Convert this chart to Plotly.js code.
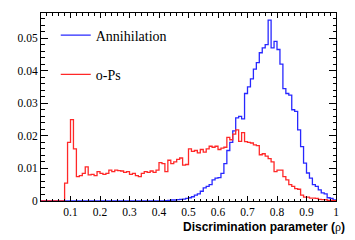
<!DOCTYPE html>
<html>
<head>
<meta charset="utf-8">
<script src="https://cdn.plot.ly/plotly-3.0.1.min.js"></script>
<style>html,body{margin:0;padding:0;background:#fff;}#plot{width:355px;height:240px;}</style>
</head>
<body>
<div id="plot"></div>
<script>
// Histogram: 100 bins from 0 to 1
const binLow = 0.0;
const binWidth = 0.01;

const annihilation = [
  0,0,0,0,0,0,0,0,0,0,
  0,0,0,0,0,0,0,0,0,0,
  0,0,0,0,0,0,0,0,0,0,
  0,0,0,0,0,0,0,0,0,0,
  0,0,0.0001,0.0002,0.0003,0.0003,0.0004,0.0005,0.0006,0.0008,
  0.001,0.0013,0.0018,0.0022,0.003,0.004,0.0045,0.005,0.0065,0.007,
  0.0072,0.0085,0.0115,0.0155,0.018,0.0215,0.0255,0.026,0.0252,0.033,
  0.035,0.0375,0.0405,0.0425,0.0455,0.047,0.048,0.0555,0.047,0.049,
  0.0465,0.042,0.0345,0.033,0.0325,0.028,0.0275,0.0218,0.0167,0.0116,
  0.0086,0.007,0.005,0.0045,0.0034,0.0025,0.0022,0.001,0.0008,0.0003
];

const ops = [
  0,0,0,0,0,0,0,0,0.0055,0.018,
  0.025,0.016,0.0075,0.0078,0.0085,0.0105,0.008,0.0082,0.0078,0.009,
  0.0085,0.0082,0.0085,0.0095,0.009,0.0095,0.0093,0.0092,0.0088,0.009,
  0.0082,0.0085,0.0078,0.0075,0.0085,0.009,0.0088,0.0092,0.0088,0.0095,
  0.0118,0.0115,0.009,0.0125,0.0115,0.012,0.0128,0.0132,0.011,0.0112,
  0.016,0.0152,0.0155,0.0148,0.0158,0.015,0.016,0.0168,0.0165,0.0168,
  0.0158,0.0162,0.0165,0.0195,0.0188,0.0205,0.0218,0.0183,0.021,0.0182,
  0.018,0.0178,0.0172,0.017,0.0142,0.0145,0.0138,0.013,0.012,0.009,
  0.0095,0.0095,0.0075,0.0065,0.005,0.0045,0.0038,0.0036,0.0018,0.0012,
  0.0012,0.0009,0.0009,0.0008,0.0005,0.0004,0.0004,0.0002,0.0002,0.0001
];

const xTickVals = [0.1,0.2,0.3,0.4,0.5,0.6,0.7,0.8,0.9,1];
const xTickText = ['0.1','0.2','0.3','0.4','0.5','0.6','0.7','0.8','0.9','1'];
const yTickVals = [0,0.01,0.02,0.03,0.04,0.05];
const yTickText = ['0','0.01','0.02','0.03','0.04','0.05'];

function stepXY(vals){
  const x = [], y = [];
  for (let i = 0; i < vals.length; i++){ x.push(binLow + i*binWidth); y.push(vals[i]); }
  x.push(binLow + vals.length*binWidth); y.push(vals[vals.length-1]);
  return {x, y};
}

const a = stepXY(annihilation);
const o = stepXY(ops);

const traces = [
  {x: a.x, y: a.y, type:'scatter', mode:'lines', name:'Annihilation', legendgroup:'a',
   line:{shape:'hv', color:'rgb(40,40,255)', width:1.3}},
  {x: o.x, y: o.y, type:'scatter', mode:'lines', name:'o-Ps', legendgroup:'b',
   line:{shape:'hv', color:'rgb(255,40,40)', width:1.3}}
];

const tickFont = {family:'Liberation Serif', size:11.5, color:'#000'};

const layout = {
  width:355, height:240,
  margin:{l:41, r:19, t:13, b:39, pad:0},
  paper_bgcolor:'#fff', plot_bgcolor:'#fff',
  showlegend:true,
  legend:{x:0.05, y:0.965, xanchor:'left', yanchor:'top', bgcolor:'rgba(0,0,0,0)',
          font:{family:'Liberation Serif', size:14, color:'#000'},
          tracegroupgap:18, traceorder:'grouped', itemwidth:30},
  xaxis:{range:[0,1], tickmode:'array', tickvals:xTickVals, ticktext:xTickText,
         ticks:'inside', ticklen:5, tickcolor:'#000', tickwidth:1,
         showline:true, linecolor:'#000', linewidth:1, mirror:'allticks',
         showgrid:false, zeroline:false, tickfont:tickFont,
         minor:{dtick:0.02, tick0:0, ticks:'inside', ticklen:2.5, tickcolor:'#000', showgrid:false}},
  yaxis:{range:[0,0.0577], tickmode:'array', tickvals:yTickVals, ticktext:yTickText,
         ticks:'inside', ticklen:7, tickcolor:'#000', tickwidth:1,
         showline:true, linecolor:'#000', linewidth:1, mirror:'allticks',
         showgrid:false, zeroline:false, tickfont:tickFont,
         minor:{dtick:0.002, tick0:0, ticks:'inside', ticklen:3.5, tickcolor:'#000', showgrid:false}},
  annotations:[{text:'<b>Discrimination parameter (</b><span style="font-family:Liberation Serif">ρ</span><b>)</b>', xref:'paper', yref:'paper',
    x:1.037, y:-0.138, xanchor:'right', yanchor:'middle', showarrow:false,
    font:{family:'Liberation Sans', size:12, color:'#000'}}]
};

Plotly.newPlot('plot', traces, layout, {staticPlot:true, displayModeBar:false});
</script>
</body>
</html>
